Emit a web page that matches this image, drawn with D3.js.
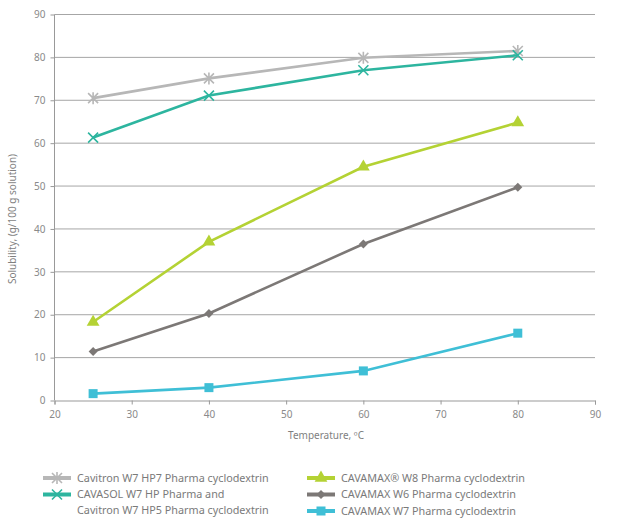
<!DOCTYPE html>
<html lang="en">
<head>
<meta charset="UTF-8">
<title>Cyclodextrin solubility</title>
<script src="https://d3js.org/d3.v7.min.js"></script>
<style>
    body { margin: 0; background: #fff; }
    text { font-family: "Noto Sans", sans-serif; fill: #7f7f7f; }
    .grid line { stroke: #a6a6a6; stroke-width: 1; }
    .axis path, .axis line { stroke: #999; }
    .axis text { font-size: 10px; fill: #8a8a8a; }
    .legend text { font-size: 10.8px; fill: #7a7a7a; }
</style>
</head>
<body>
<svg width="622" height="522"></svg>
<script>
    const temps = [25, 40, 60, 80];
    const xTicks = [20, 30, 40, 50, 60, 70, 80, 90];
    const yTicks = [0, 10, 20, 30, 40, 50, 60, 70, 80, 90];

    const hp7 = [70.5, 75.1, 79.9, 81.5];
    const cavasol = [61.3, 71.1, 77.0, 80.5];
    const w8 = [18.3, 37.0, 54.5, 64.8];
    const w6 = [11.4, 20.3, 36.5, 49.7];
    const w7 = [1.6, 3.0, 6.9, 15.7];

    const series = [
        { name: ["Cavitron W7 HP7 Pharma cyclodextrin"], values: hp7, color: "#b7b7b7", marker: "star", col: 0, row: 0 },
        { name: ["CAVASOL W7 HP Pharma and", "Cavitron W7 HP5 Pharma cyclodextrin"], values: cavasol, color: "#2db59f", marker: "cross", col: 0, row: 1 },
        { name: ["CAVAMAX\u00ae W8 Pharma cyclodextrin"], values: w8, color: "#b4d234", marker: "triangle", col: 1, row: 0 },
        { name: ["CAVAMAX W6 Pharma cyclodextrin"], values: w6, color: "#7c7876", marker: "diamond", col: 1, row: 1 },
        { name: ["CAVAMAX W7 Pharma cyclodextrin"], values: w7, color: "#3fbfd6", marker: "square", col: 1, row: 2 }
    ];

    const svg = d3.select("svg");
    const pLeft = 54.5, pRight = 595, pTop = 14.5, pBottom = 400.5;

    const x = d3.scaleLinear().domain([20, 90]).range([pLeft, pRight]);
    const y = d3.scaleLinear().domain([0, 90]).range([pBottom, pTop]);

    // horizontal grid
    svg.append("g").attr("class", "grid")
        .selectAll("line")
        .data(yTicks.filter(d => d > 0))
        .enter().append("line")
        .attr("x1", pLeft).attr("x2", pRight)
        .attr("y1", d => y(d)).attr("y2", d => y(d));

    svg.append("g").attr("class", "axis")
        .attr("transform", `translate(0,${pBottom})`)
        .call(d3.axisBottom(x).tickValues(xTicks).tickSize(4).tickPadding(6).tickFormat(d3.format("d")));

    const yAxis = svg.append("g").attr("class", "axis")
        .attr("transform", `translate(${pLeft},0)`)
        .call(d3.axisLeft(y).tickValues(yTicks).tickSize(4).tickPadding(5).tickFormat(d3.format("d")));
    yAxis.select(".domain").remove();
    yAxis.append("line").attr("x1", 0).attr("x2", 0).attr("y1", pTop).attr("y2", pBottom).attr("stroke", "#999");

    svg.append("text")
        .attr("transform", "translate(15.5,219) rotate(-90)")
        .attr("text-anchor", "middle")
        .style("font-size", "10px")
        .text("Solubility,  (g/100 g solution)");

    svg.append("text")
        .attr("x", 326).attr("y", 439)
        .attr("text-anchor", "middle")
        .style("font-size", "10px")
        .text("Temperature, \u00baC");

    function drawMarker(g, type, color, s) {
        if (type === "square") {
            g.append("rect").attr("x", -s).attr("y", -s).attr("width", 2 * s).attr("height", 2 * s).attr("fill", color);
        } else if (type === "triangle") {
            g.append("path").attr("d", d3.symbol(d3.symbolTriangle, s * s * 3.2)()).attr("fill", color);
        } else if (type === "diamond") {
            g.append("path").attr("d", `M0,${-s}L${s},0L0,${s}L${-s},0Z`).attr("fill", color);
        } else if (type === "cross") {
            g.append("path").attr("d", `M${-s},${-s}L${s},${s}M${-s},${s}L${s},${-s}`)
                .attr("stroke", color).attr("stroke-width", 1.6).attr("fill", "none");
        } else if (type === "star") {
            g.append("path").attr("d", `M${-s},${-s}L${s},${s}M${-s},${s}L${s},${-s}M0,${-s - 1}L0,${s + 1}`)
                .attr("stroke", color).attr("stroke-width", 1.6).attr("fill", "none");
        }
    }

    const markerSize = { square: 4.5, triangle: 4.7, diamond: 4.5, cross: 5, star: 5 };

    const line = d3.line().x((d, i) => x(temps[i])).y(d => y(d));

    series.forEach(s => {
        svg.append("path")
            .datum(s.values)
            .attr("fill", "none")
            .attr("stroke", s.color)
            .attr("stroke-width", 2.6)
            .attr("d", line);
        s.values.forEach((v, i) => {
            const g = svg.append("g").attr("transform", `translate(${x(temps[i])},${y(v)})`);
            drawMarker(g, s.marker, s.color, markerSize[s.marker]);
        });
    });

    // legend
    const legend = svg.append("g").attr("class", "legend");
    const colX = [43, 307];
    const rowY = [478, 494.5, 511];
    series.forEach(s => {
        const g = legend.append("g").attr("transform", `translate(${colX[s.col]},${rowY[s.row]})`);
        g.append("line").attr("x1", 0).attr("x2", 28).attr("y1", 0).attr("y2", 0)
            .attr("stroke", s.color).attr("stroke-width", 4);
        const mg = g.append("g").attr("transform", "translate(14,0)");
        drawMarker(mg, s.marker, s.color, markerSize[s.marker]);
        s.name.forEach((t, k) => {
            g.append("text").attr("x", 34).attr("y", k * 15.5).attr("dy", "0.35em").text(t);
        });
    });
</script>
</body>
</html>
